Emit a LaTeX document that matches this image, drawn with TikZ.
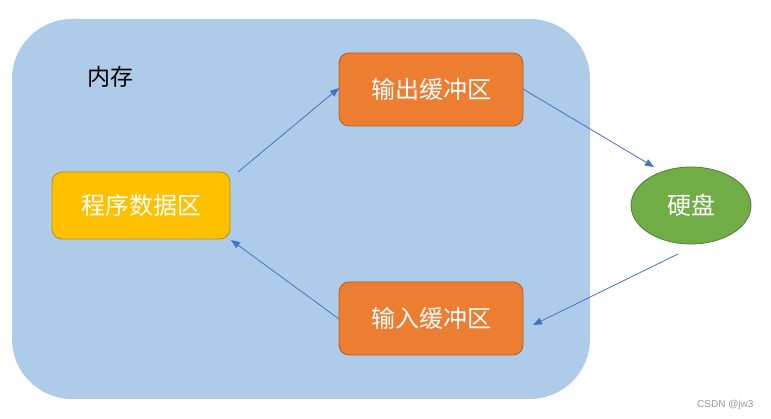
\documentclass[tikz,border=0pt]{standalone}
\usepackage{fontspec}
\setmainfont{Noto Sans CJK SC}
\newfontfamily\latinfont{Liberation Sans}
\usetikzlibrary{shapes.geometric,arrows.meta}
\definecolor{memblue}{HTML}{AECCE9}
\definecolor{orangefill}{HTML}{ED7D31}
\definecolor{orangeline}{HTML}{B15E24}
\definecolor{yellowfill}{HTML}{FFC000}
\definecolor{yellowline}{HTML}{BF9000}
\definecolor{greenfill}{HTML}{70AD47}
\definecolor{greenline}{HTML}{507E32}
\definecolor{arrowblue}{HTML}{4472C4}
\tikzset{
  boxnode/.style={rounded corners=10pt, draw, line width=0.8pt, text=white, font=\fontsize{24}{27}\selectfont, inner sep=0pt},
  flow/.style={draw=arrowblue, line width=0.8pt, -{Triangle[length=9pt,width=7pt]}}
}
\begin{document}
\begin{tikzpicture}[x=1pt,y=-1pt]
\useasboundingbox (0,0) rectangle (771,419);
\fill[memblue, rounded corners=60pt] (12,19) rectangle (590,399);
\node[font=\fontsize{23}{26}\selectfont, text=black] (mem) at (110,77) {内存};
\node[boxnode, fill=orangefill, draw=orangeline, minimum width=184pt, minimum height=73pt] (out) at (431,89.5) {输出缓冲区};
\node[boxnode, fill=yellowfill, draw=yellowline, minimum width=178pt, minimum height=67pt] (prog) at (141,205.5) {程序数据区};
\node[boxnode, fill=orangefill, draw=orangeline, minimum width=184pt, minimum height=73pt] (in) at (431,318.5) {输入缓冲区};
\node[ellipse, draw=greenline, fill=greenfill, line width=0.8pt, text=white, font=\fontsize{24}{27}\selectfont, minimum width=120pt, minimum height=77pt, inner sep=0pt] (disk) at (691,205.5) {硬盘};
\coordinate (a1s) at (238,172);
\coordinate (a1e) at (339,88);
\coordinate (a2s) at (523,89);
\coordinate (a2e) at (654,167);
\coordinate (a3s) at (678,254);
\coordinate (a3e) at (533,325);
\coordinate (a4s) at (339,319);
\coordinate (a4e) at (231,240);
\draw[flow] (a1s) -- (a1e);
\draw[flow] (a2s) -- (a2e);
\draw[flow] (a3s) -- (a3e);
\draw[flow] (a4s) -- (a4e);
\node[font=\latinfont\fontsize{10}{12}\selectfont, text=gray!80, anchor=east] (wm) at (757,405) {CSDN @jw3};
\end{tikzpicture}
\end{document}
